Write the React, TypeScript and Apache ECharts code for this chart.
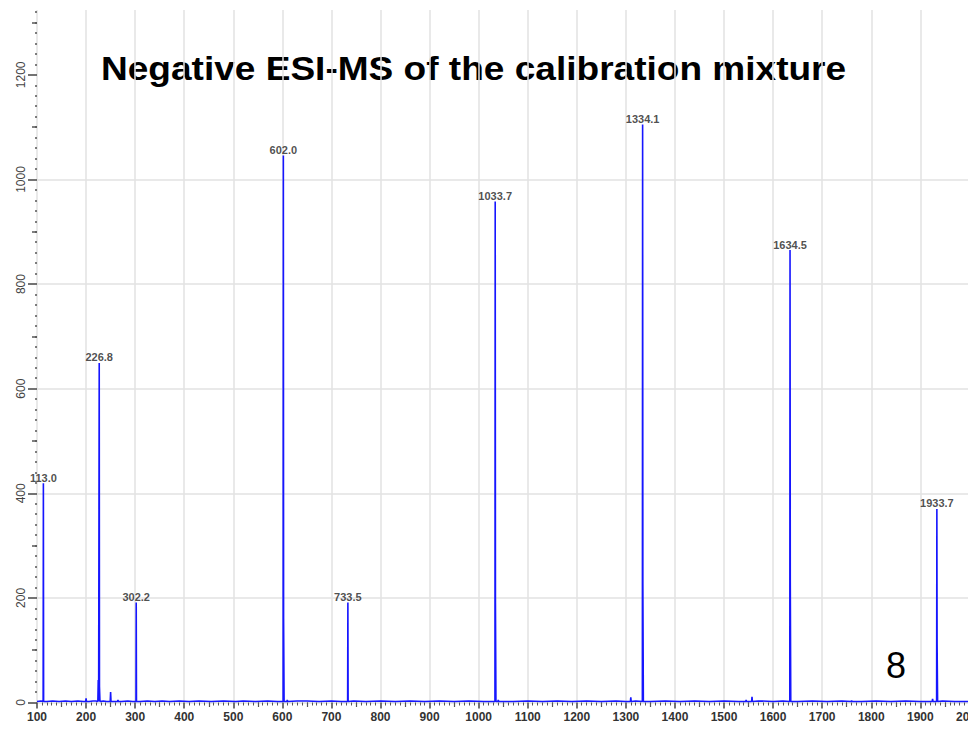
import React, { useEffect, useRef } from "react";
import * as echarts from "echarts";

// Labelled peaks (m/z and intensity)
const peakMz = [113.0, 226.8, 302.2, 602.0, 733.5, 1033.7, 1334.1, 1634.5, 1933.7];
const peakIntensity = [419, 649, 191, 1046, 191, 958, 1105, 865, 370];
// Isotope shoulder intensity right next to each peak
const isotopeIntensity = [0, 30, 0, 160, 0, 190, 225, 234, 110];

// Small unlabelled spikes (m/z, intensity)
const spikeMz = [200, 224.8, 250, 265, 610, 1040, 1310, 1545, 1557, 1760, 1925];
const spikeIntensity = [8, 43, 20, 5, 5, 5, 10, 5, 11, 4, 7];

// Baseline noise (m/z, intensity)
const noiseMz = [100, 108, 120, 132, 145, 158, 170, 183, 195, 206, 214, 220, 235, 242, 256, 272, 285, 295, 310, 325, 340, 355, 370, 390, 410, 430, 455, 480, 505, 520, 545, 570, 590, 630, 650, 675, 700, 720, 745, 770, 800, 830, 860, 890, 920, 950, 980, 1010, 1070, 1100, 1130, 1160, 1190, 1220, 1250, 1280, 1300, 1320, 1350, 1380, 1410, 1440, 1470, 1500, 1530, 1570, 1600, 1620, 1650, 1680, 1710, 1740, 1780, 1810, 1840, 1870, 1900, 1945, 1970, 2000];
const noiseIntensity = [2, 3, 2, 3, 2, 3, 2, 3, 2, 2, 3, 3, 3, 2, 2, 2, 3, 2, 2, 3, 2, 3, 2, 3, 2, 3, 2, 3, 2, 3, 2, 3, 2, 3, 3, 2, 3, 2, 3, 2, 3, 2, 3, 2, 3, 2, 3, 2, 2, 3, 2, 3, 2, 3, 2, 3, 2, 3, 2, 3, 2, 3, 2, 3, 2, 3, 2, 3, 2, 3, 2, 3, 2, 3, 2, 3, 2, 3, 2, 2];

// Axis ranges and tick values
const xMin = 100;
const xMax = 2000;
const yMin = 0;
const yMax = 1324;
const yLabelValues = [0, 200, 400, 600, 800, 1000, 1200];
const yMidTicks = [100, 300, 500, 700, 900, 1100, 1300];
const xMidTicks = [150, 250, 350, 450, 550, 650, 750, 850, 950, 1050, 1150, 1250, 1350, 1450, 1550, 1650, 1750, 1850, 1950];

const titleText = "Negative ESI-MS of the calibration mixture";
const slideNumber = "8";

const BLUE = "#1616ff";

function buildSpectrum(): number[][] {
  const pts: number[][] = [];
  noiseMz.forEach((m, i) => pts.push([m, noiseIntensity[i]]));
  spikeMz.forEach((m, i) => {
    pts.push([m - 0.8, 2]);
    pts.push([m, spikeIntensity[i]]);
    pts.push([m + 0.8, 2]);
  });
  peakMz.forEach((m, i) => {
    pts.push([m - 0.5, 2]);
    pts.push([m, peakIntensity[i]]);
    if (isotopeIntensity[i] > 0) {
      pts.push([m + 0.5, isotopeIntensity[i]]);
      pts.push([m + 1.0, isotopeIntensity[i]]);
      pts.push([m + 1.5, 2]);
    } else {
      pts.push([m + 0.5, 2]);
    }
  });
  pts.sort((a, b) => a[0] - b[0]);
  return pts;
}

export default function App() {
  const ref = useRef<HTMLDivElement>(null);
  useEffect(() => {
    if (!ref.current) return;
    const chart = echarts.init(ref.current, null, { renderer: "svg" });
    const font = "'Liberation Sans', Arial, Helvetica, sans-serif";
    const plain = (v: number) => String(v);
    const option: any = {
      animation: false,
      backgroundColor: "#ffffff",
      textStyle: { fontFamily: font },
      grid: { left: 37, right: 30.6, top: 10, bottom: 26.5, containLabel: false },
      xAxis: [
        {
          type: "value",
          min: xMin,
          max: xMax,
          interval: 100,
          position: "bottom",
          axisLine: { show: false },
          axisTick: { show: true, length: 6, lineStyle: { color: "#444", width: 1.5 } },
          minorTick: { show: true, splitNumber: 10, length: 3, lineStyle: { color: "#555", width: 1 } },
          axisLabel: { fontSize: 12, fontWeight: "bold", color: "#333", margin: 8, fontFamily: font, formatter: plain },
          splitLine: { show: true, lineStyle: { color: "#e2e2e2", width: 1.5 } },
        },
        {
          type: "value",
          min: xMin,
          max: xMax,
          interval: 50,
          position: "bottom",
          axisLine: { show: false },
          axisTick: { show: true, length: 4.5, customValues: xMidTicks, lineStyle: { color: "#555", width: 1.2 } },
          axisLabel: { show: false },
          splitLine: { show: false },
        },
      ],
      yAxis: [
        {
          type: "value",
          min: yMin,
          max: yMax,
          interval: 200,
          position: "left",
          axisLine: { show: false },
          axisTick: { show: true, length: 9, customValues: yLabelValues, lineStyle: { color: "#444", width: 1.5 } },
          minorTick: { show: true, splitNumber: 10, length: 2, lineStyle: { color: "#555", width: 1.5 } },
          axisLabel: {
            rotate: 90,
            fontSize: 12,
            color: "#444",
            margin: 10,
            customValues: yLabelValues,
            fontFamily: font,
            formatter: plain,
          },
          splitLine: { show: true, showMaxLine: false, lineStyle: { color: "#e2e2e2", width: 1.5 } },
        },
        {
          type: "value",
          min: yMin,
          max: yMax,
          interval: 100,
          position: "left",
          axisLine: { show: false },
          axisTick: { show: true, length: 5, customValues: yMidTicks, lineStyle: { color: "#555", width: 1.5 } },
          axisLabel: { show: false },
          splitLine: { show: false },
        },
      ],
      series: [
        {
          type: "line",
          xAxisIndex: 0,
          yAxisIndex: 0,
          data: buildSpectrum(),
          showSymbol: false,
          lineStyle: { color: BLUE, width: 1.6 },
          silent: true,
        },
        {
          type: "scatter",
          xAxisIndex: 0,
          yAxisIndex: 0,
          data: peakMz.map((m, i) => [m, peakIntensity[i]]),
          symbolSize: 0.1,
          itemStyle: { color: "rgba(0,0,0,0)" },
          label: {
            show: true,
            position: "top",
            distance: 0,
            fontSize: 11,
            fontWeight: "bold",
            color: "#222",
            fontFamily: font,
            formatter: (p: any) => p.value[0].toFixed(1),
          },
          silent: true,
        },
      ],
      graphic: [
        {
          type: "text",
          x: 101,
          y: 69,
          scaleX: 1.09,
          style: {
            x: 0,
            y: 0,
            text: titleText,
            fontSize: 34,
            fontWeight: "bold",
            fontFamily: font,
            fill: "#000",
            align: "left",
            verticalAlign: "middle",
          },
        },
        {
          type: "text",
          x: 896,
          y: 665,
          style: {
            text: slideNumber,
            fontSize: 36,
            fontFamily: font,
            fill: "#000",
            align: "center",
            verticalAlign: "middle",
          },
        },
      ],
    };
    chart.setOption(option);
    return () => chart.dispose();
  }, []);
  return (
    <div
      style={{
        position: "fixed",
        left: 0,
        top: 0,
        width: 968,
        height: 729,
        overflow: "hidden",
        background: "#fff",
      }}
    >
      <div ref={ref} style={{ width: 1000, height: 729 }} />
    </div>
  );
}
